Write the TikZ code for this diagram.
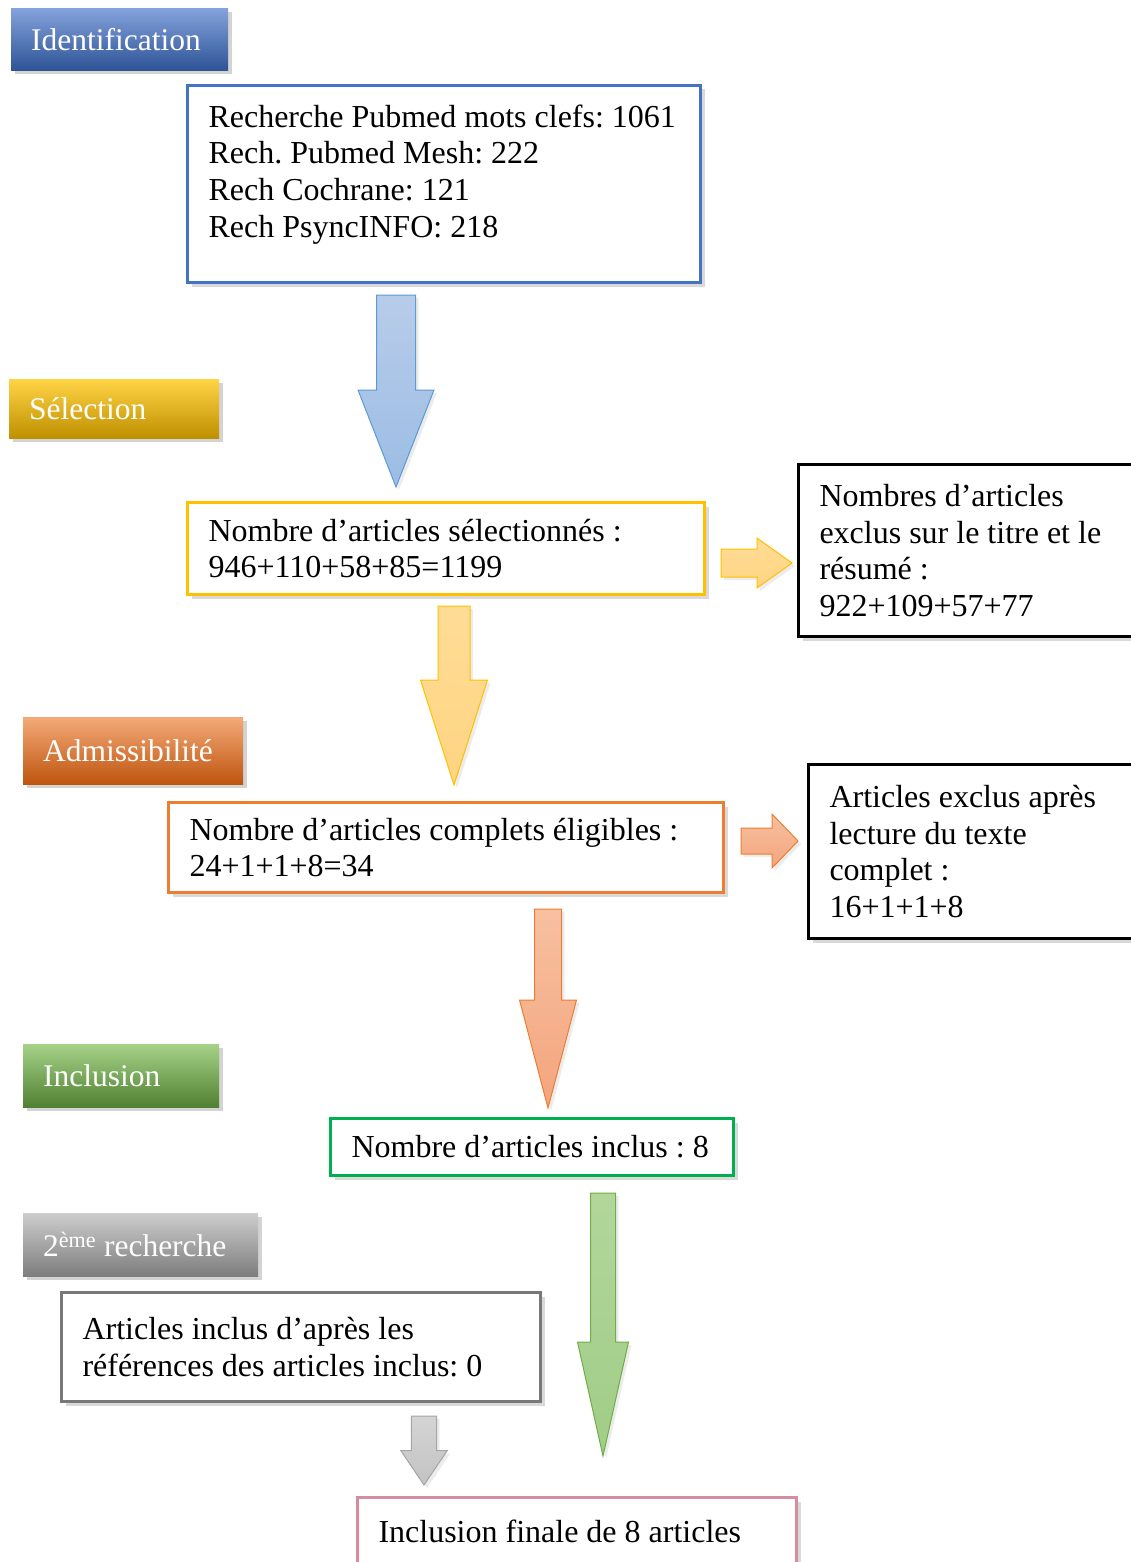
\documentclass[tikz,border=0pt]{standalone}
\usepackage{fontspec}
\setmainfont{Liberation Serif}
\usetikzlibrary{calc,positioning,shadows}
\frenchspacing

\definecolor{idblue}{RGB}{68,114,196}
\definecolor{idtop}{RGB}{132,162,220}
\definecolor{idbot}{RGB}{46,84,150}
\definecolor{selgold}{RGB}{255,192,0}
\definecolor{seltop}{RGB}{255,212,70}
\definecolor{selbot}{RGB}{191,144,0}
\definecolor{admorange}{RGB}{237,125,49}
\definecolor{admtop}{RGB}{244,170,120}
\definecolor{admbot}{RGB}{190,85,15}
\definecolor{inclgreen}{RGB}{0,176,80}
\definecolor{incltop}{RGB}{165,210,135}
\definecolor{inclbot}{RGB}{80,128,50}
\definecolor{sectop}{RGB}{205,205,205}
\definecolor{secbot}{RGB}{125,125,125}
\definecolor{secgray}{RGB}{120,120,120}
\definecolor{finalpink}{RGB}{212,140,160}
% block arrow colours
\definecolor{arrblue}{RGB}{91,155,213}
\definecolor{arrbluetop}{RGB}{184,204,234}
\definecolor{arrbluebot}{RGB}{155,189,228}
\definecolor{arryeltop}{RGB}{255,220,150}
\definecolor{arryelbot}{RGB}{255,212,130}
\definecolor{arrortop}{RGB}{247,192,160}
\definecolor{arrorbot}{RGB}{243,165,125}
\definecolor{arrgreen}{RGB}{112,173,71}
\definecolor{arrgreentop}{RGB}{178,214,155}
\definecolor{arrgreenbot}{RGB}{160,205,135}
\definecolor{arrgray}{RGB}{165,165,165}
\definecolor{arrgraytop}{RGB}{212,212,212}
\definecolor{arrgraybot}{RGB}{195,195,195}

\tikzset{
  stage/.style={anchor=north west, inner xsep=20pt, inner ysep=0pt, align=flush left,
    text=white, font=\fontsize{31.5}{36}\selectfont,
    drop shadow={shadow xshift=4pt, shadow yshift=-4pt, opacity=.35}},
  countbox/.style={anchor=north west, draw=#1, line width=3pt, fill=white,
    inner xsep=21pt, inner ysep=0pt, align=flush left, font=\fontsize{32}{36.7}\selectfont,
    drop shadow={shadow xshift=4pt, shadow yshift=-4pt, opacity=.3}},
  blockarrow/.style n args={3}{to path={
      ($(\tikztostart)!#1!90:(\tikztotarget)$)
      -- ($($(\tikztotarget)!#3!(\tikztostart)$)!#1!90:(\tikztotarget)$)
      -- ($($(\tikztotarget)!#3!(\tikztostart)$)!#2!90:(\tikztotarget)$)
      -- (\tikztotarget)
      -- ($($(\tikztotarget)!#3!(\tikztostart)$)!#2!-90:(\tikztotarget)$)
      -- ($($(\tikztotarget)!#3!(\tikztostart)$)!#1!-90:(\tikztotarget)$)
      -- ($(\tikztostart)!#1!-90:(\tikztotarget)$) -- cycle}},
  flow/.style n args={3}{draw=#1, line width=1pt, top color=#2, bottom color=#3,
    drop shadow={shadow xshift=3pt, shadow yshift=-3pt, opacity=.15}},
}

\begin{document}
\begin{tikzpicture}[x=1pt,y=-1pt]
  \path[use as bounding box] (0,0) rectangle (1131,1562);
  \clip (0,0) rectangle (1131,1562);

  % stage labels
  \node[stage, top color=idtop, bottom color=idbot, minimum width=217pt, minimum height=62pt, text width=177pt] (idHdr) at (11,8) {Identification};
  \node[stage, top color=seltop, bottom color=selbot, minimum width=210pt, minimum height=59pt, text width=170pt] (selHdr) at (9,379) {Sélection};
  \node[stage, top color=admtop, bottom color=admbot, minimum width=220pt, minimum height=67pt, text width=180pt] (admHdr) at (23,717) {Admissibilité};
  \node[stage, top color=incltop, bottom color=inclbot, minimum width=196pt, minimum height=63pt, text width=156pt] (inclHdr) at (23,1044) {Inclusion};
  \node[stage, top color=sectop, bottom color=secbot, minimum width=235pt, minimum height=63pt, text width=195pt] (secHdr) at (23,1213) {2\textsuperscript{ème} recherche};

  % count boxes
  \node[countbox=idblue, minimum height=197pt] (rech) at (186,84) {\parbox[c][159pt][t]{471pt}{Recherche Pubmed mots clefs: 1061\\Rech. Pubmed Mesh: 222\\Rech Cochrane: 121\\Rech PsyncINFO: 218}};
  \node[countbox=selgold, text width=475pt, minimum height=92pt] (sel) at (186,501) {Nombre d’articles sélectionnés :\\946+110+58+85=1199};
  \node[countbox=black, text width=316pt, minimum height=172pt] (exclTitre) at (797,463) {Nombres d’articles\\exclus sur le titre et le\\résumé :\\922+109+57+77};
  \node[countbox=admorange, text width=513pt, minimum height=90pt] (elig) at (167,801) {Nombre d’articles complets éligibles :\\24+1+1+8=34};
  \node[countbox=black, text width=316pt, minimum height=174pt] (exclTexte) at (807,763) {Articles exclus après\\lecture du texte\\complet :\\16+1+1+8};
  \node[countbox=inclgreen, text width=361pt, minimum height=57pt] (incl) at (329,1117) {\mbox{Nombre d’articles inclus : 8}};
  \node[countbox=secgray, text width=437pt, minimum height=109pt] (second) at (60,1291) {Articles inclus d’après les\\références des articles inclus: 0};
  \node[countbox=finalpink, text width=397pt, minimum height=68pt] (final) at (356,1496) {Inclusion finale de 8 articles};

  % arrow ends
  \coordinate (a1s) at (396,295);   \coordinate (a1e) at (396,487);
  \coordinate (a2s) at (721,563);   \coordinate (a2e) at (792,563);
  \coordinate (a3s) at (454,606);   \coordinate (a3e) at (454,785);
  \coordinate (a4s) at (741,841);   \coordinate (a4e) at (798,841);
  \coordinate (a5s) at (548,909);   \coordinate (a5e) at (548,1108);
  \coordinate (a6s) at (603,1193);  \coordinate (a6e) at (603,1456);
  \coordinate (a7s) at (424,1416);  \coordinate (a7e) at (424,1485);

  \path[flow={arrblue}{arrbluetop}{arrbluebot}, blockarrow={19.5pt}{38pt}{97pt}] (a1s) to (a1e);
  \path[flow={selgold}{arryeltop}{arryelbot}, blockarrow={14pt}{25pt}{35pt}] (a2s) to (a2e);
  \path[flow={selgold}{arryeltop}{arryelbot}, blockarrow={16pt}{33.5pt}{105pt}] (a3s) to (a3e);
  \path[flow={admorange}{arrortop}{arrorbot}, blockarrow={13pt}{27pt}{26pt}] (a4s) to (a4e);
  \path[flow={admorange}{arrortop}{arrorbot}, blockarrow={13.5pt}{28.5pt}{108pt}] (a5s) to (a5e);
  \path[flow={arrgreen}{arrgreentop}{arrgreenbot}, blockarrow={12.5pt}{25.5pt}{114pt}] (a6s) to (a6e);
  \path[flow={arrgray}{arrgraytop}{arrgraybot}, blockarrow={12.7pt}{23.3pt}{34.5pt}] (a7s) to (a7e);
\end{tikzpicture}
\end{document}
